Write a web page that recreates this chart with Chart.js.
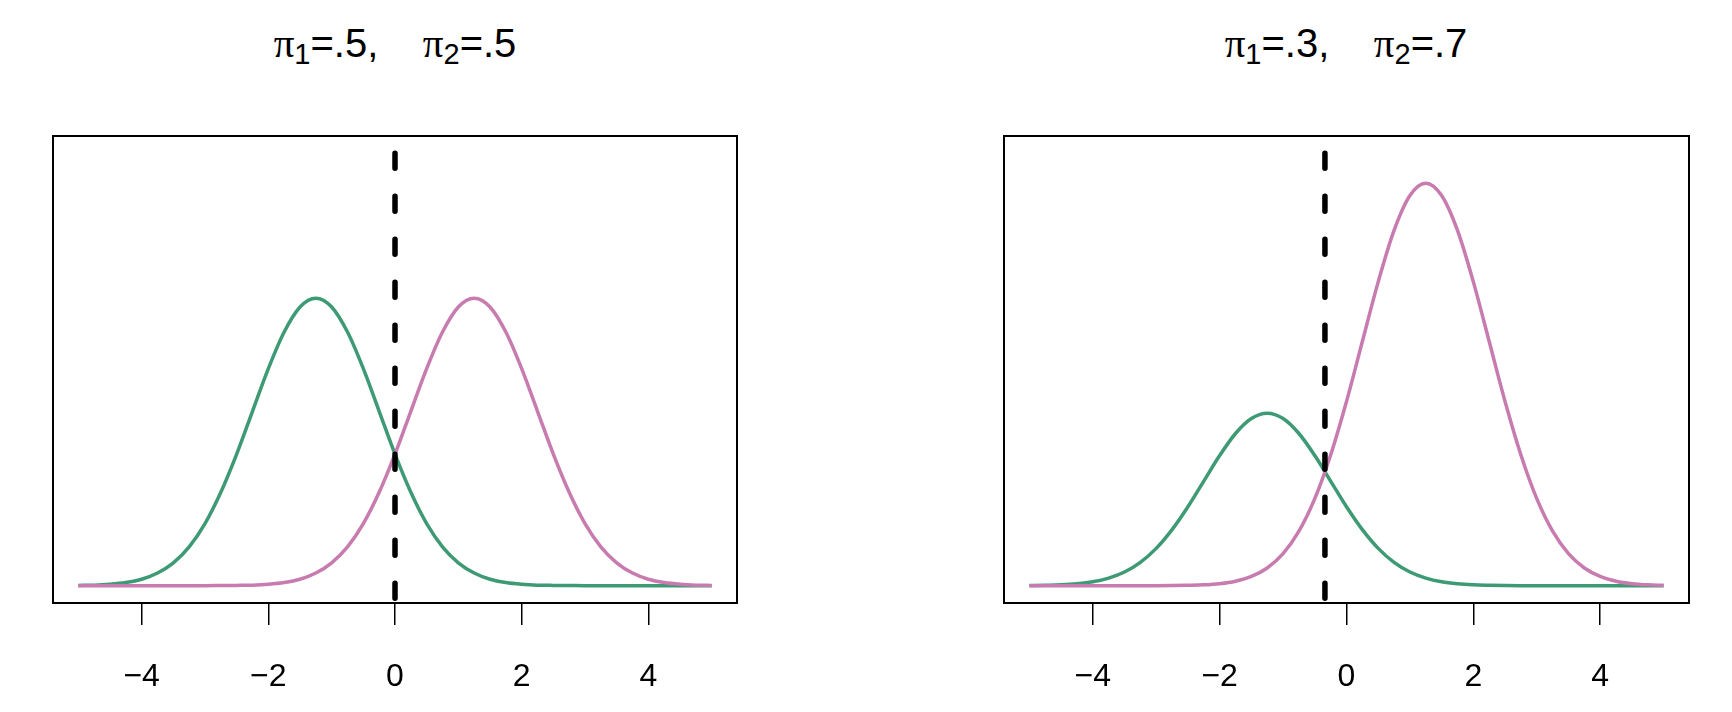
<!DOCTYPE html>
<html>
<head>
<meta charset="utf-8">
<script src="https://cdn.jsdelivr.net/npm/chart.js@4.4.0/dist/chart.umd.min.js"></script>
<style>
  body { margin: 0; background: #fff; width: 1732px; height: 712px; position: relative; overflow: hidden; font-family: "Liberation Sans", Arial, sans-serif; }
  canvas { position: absolute; top: 0; }
  .title { position: absolute; top: 23px; font-size: 40px; line-height: 1; white-space: pre; transform: translateX(-50%); color: #000; }
  .title .pi { font-family: "Liberation Serif", serif; font-size: 41px; }
  .title sub { font-size: 29px; position: relative; top: 7px; vertical-align: baseline; line-height: 0; }
</style>
</head>
<body>
<div class="title" style="left:395px"><span class="pi">π</span><sub>1</sub>=.5,    <span class="pi">π</span><sub>2</sub>=.5</div>
<div class="title" style="left:1346px"><span class="pi">π</span><sub>1</sub>=.3,    <span class="pi">π</span><sub>2</sub>=.7</div>
<canvas id="left" width="866" height="712" style="left:0"></canvas>
<canvas id="right" width="866" height="712" style="left:866px"></canvas>
<script>
// x grid of the curves
const xs = [-5, -4.75, -4.5, -4.25, -4, -3.75, -3.5, -3.25, -3, -2.75, -2.5, -2.25, -2, -1.75, -1.5, -1.25,
  -1, -0.75, -0.5, -0.25, 0, 0.25, 0.5, 0.75, 1, 1.25, 1.5, 1.75, 2, 2.25, 2.5, 2.75, 3, 3.25, 3.5, 3.75,
  4, 4.25, 4.5, 4.75, 5];

// left panel: pi1 = .5, pi2 = .5
const greenLeft = [0.0002, 0.0004, 0.0010, 0.0022, 0.0045, 0.0088, 0.0159, 0.0270, 0.0431, 0.0648, 0.0913,
  0.1210, 0.1506, 0.1760, 0.1934, 0.1995, 0.1934, 0.1760, 0.1506, 0.1210, 0.0913, 0.0648, 0.0431, 0.0270,
  0.0159, 0.0088, 0.0045, 0.0022, 0.0010, 0.0004, 0.0002, 0.0001, 0, 0, 0, 0, 0, 0, 0, 0, 0];
const pinkLeft = [0, 0, 0, 0, 0, 0, 0, 0, 0, 0.0001, 0.0002, 0.0004, 0.0010, 0.0022, 0.0045, 0.0088, 0.0159,
  0.0270, 0.0431, 0.0648, 0.0913, 0.1210, 0.1506, 0.1760, 0.1934, 0.1995, 0.1934, 0.1760, 0.1506, 0.1210,
  0.0913, 0.0648, 0.0431, 0.0270, 0.0159, 0.0088, 0.0045, 0.0022, 0.0010, 0.0004, 0.0002];

// right panel: pi1 = .3, pi2 = .7
const greenRight = [0.0001, 0.0003, 0.0006, 0.0013, 0.0027, 0.0053, 0.0095, 0.0162, 0.0259, 0.0389, 0.0548,
  0.0726, 0.0903, 0.1056, 0.1160, 0.1197, 0.1160, 0.1056, 0.0903, 0.0726, 0.0548, 0.0389, 0.0259, 0.0162,
  0.0095, 0.0053, 0.0027, 0.0013, 0.0006, 0.0003, 0.0001, 0, 0, 0, 0, 0, 0, 0, 0, 0, 0];
const pinkRight = [0, 0, 0, 0, 0, 0, 0, 0, 0, 0.0001, 0.0003, 0.0006, 0.0014, 0.0031, 0.0064, 0.0123, 0.0222,
  0.0378, 0.0604, 0.0907, 0.1278, 0.1694, 0.2108, 0.2465, 0.2707, 0.2793, 0.2707, 0.2465, 0.2108, 0.1694,
  0.1278, 0.0907, 0.0604, 0.0378, 0.0222, 0.0123, 0.0064, 0.0031, 0.0014, 0.0006, 0.0003];

// Bayes decision boundaries
const boundaryLeft = 0;
const boundaryRight = -0.34;

const tickVals = [-4, -2, 0, 2, 4];

const GREEN = '#3d9a74';
const PINK = '#c77bae';

// draw the box around the plot region
const boxPlugin = {
  id: 'box',
  afterDraw(chart) {
    const a = chart.chartArea;
    const ctx = chart.ctx;
    ctx.save();
    ctx.strokeStyle = '#000';
    ctx.lineWidth = 2;
    ctx.strokeRect(Math.round(a.left), Math.round(a.top), Math.round(a.right - a.left), Math.round(a.bottom - a.top));
    ctx.restore();
  }
};

function pts(ys) {
  return xs.map((x, i) => ({ x: x, y: ys[i] }));
}

function makePanel(id, green, pink, boundary, padLeft, padRight) {
  const ctx = document.getElementById(id).getContext('2d');
  return new Chart(ctx, {
    type: 'line',
    data: {
      datasets: [
        {
          data: [{ x: boundary, y: 0.3 }, { x: boundary, y: -0.012 }],
          borderColor: '#000',
          borderWidth: 5.5,
          borderDash: [15, 28],
          borderCapStyle: 'round',
          pointRadius: 0
        },
        {
          data: pts(pink),
          borderColor: PINK,
          borderWidth: 3.5,
          pointRadius: 0,
          cubicInterpolationMode: 'monotone'
        },
        {
          data: pts(green),
          borderColor: GREEN,
          borderWidth: 3.5,
          pointRadius: 0,
          cubicInterpolationMode: 'monotone'
        }
      ]
    },
    options: {
      responsive: false,
      animation: false,
      layout: { padding: { left: padLeft, right: padRight, top: 136, bottom: 0 } },
      plugins: { legend: { display: false }, tooltip: { enabled: false } },
      scales: {
        x: {
          type: 'linear',
          min: -5.4,
          max: 5.4,
          afterBuildTicks: s => { s.ticks = tickVals.map(v => ({ value: v })); },
          afterFit: s => { s.height = 109; },
          grid: { drawOnChartArea: false, drawTicks: true, tickLength: 22, color: '#000', lineWidth: 1.5 },
          border: { display: false },
          ticks: {
            color: '#000',
            padding: 33,
            maxRotation: 0,
            font: { family: '"Liberation Sans", Arial, sans-serif', size: 32 },
            callback: v => v < 0 ? '\u2212' + Math.abs(v) : String(v)
          }
        },
        y: { display: false, min: -0.012, max: 0.312 }
      }
    },
    plugins: [boxPlugin]
  });
}

makePanel('left', greenLeft, pinkLeft, boundaryLeft, 53, 129);
makePanel('right', greenRight, pinkRight, boundaryRight, 138, 43);
</script>
</body>
</html>
